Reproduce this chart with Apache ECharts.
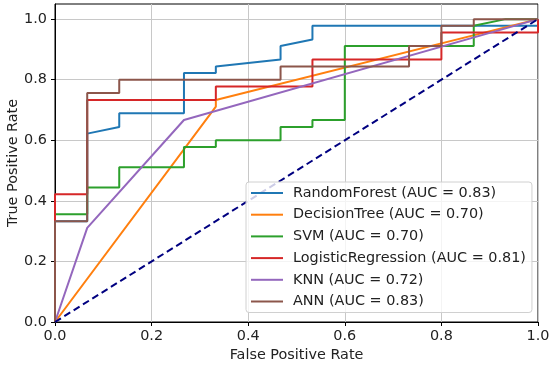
<!DOCTYPE html>
<html>
<head>
<meta charset="utf-8">
<script src="https://cdn.jsdelivr.net/npm/echarts@6/dist/echarts.min.js"></script>
<style>
html,body{margin:0;padding:0;background:#fff;}
#chart{width:550px;height:366px;}
</style>
</head>
<body>
<div id="chart"></div>
<script>
// Tick labels
var xTicks = [0, 0.2, 0.4, 0.6, 0.8, 1.0];
var yTicks = [0, 0.2, 0.4, 0.6, 0.8, 1.0];

// Model names and AUC labels
var modelNames = ['RandomForest (AUC = 0.83)', 'DecisionTree (AUC = 0.70)', 'SVM (AUC = 0.70)',
                  'LogisticRegression (AUC = 0.81)', 'KNN (AUC = 0.72)', 'ANN (AUC = 0.83)'];

// ROC curve points (FPR, TPR)
var rfFpr  = [0, 0, 0.0667, 0.0667, 0.133, 0.133, 0.267, 0.267, 0.333, 0.333, 0.467, 0.467, 0.533, 0.533, 1.0, 1.0];
var rfTpr  = [0, 0.333, 0.333, 0.622, 0.644, 0.689, 0.689, 0.822, 0.822, 0.844, 0.867, 0.911, 0.933, 0.978, 0.978, 1.0];

var dtFpr  = [0, 0.333, 0.333, 1.0];
var dtTpr  = [0, 0.711, 0.733, 1.0];

var svmFpr = [0, 0, 0.0667, 0.0667, 0.133, 0.133, 0.267, 0.267, 0.333, 0.333, 0.467, 0.467, 0.533, 0.533, 0.6, 0.6, 0.867, 0.867, 0.933, 1.0];
var svmTpr = [0, 0.356, 0.356, 0.444, 0.444, 0.511, 0.511, 0.578, 0.578, 0.6, 0.6, 0.644, 0.644, 0.667, 0.667, 0.911, 0.911, 0.978, 1.0, 1.0];

var lrFpr  = [0, 0, 0.0667, 0.0667, 0.333, 0.333, 0.533, 0.533, 0.8, 0.8, 1.0, 1.0];
var lrTpr  = [0, 0.422, 0.422, 0.733, 0.733, 0.778, 0.778, 0.867, 0.867, 0.956, 0.956, 1.0];

var knnFpr = [0, 0.0667, 0.267, 1.0];
var knnTpr = [0, 0.311, 0.667, 1.0];

var annFpr = [0, 0, 0.0667, 0.0667, 0.133, 0.133, 0.467, 0.467, 0.733, 0.733, 0.8, 0.8, 0.867, 0.867, 1.0];
var annTpr = [0, 0.333, 0.333, 0.756, 0.756, 0.8, 0.8, 0.844, 0.844, 0.911, 0.911, 0.978, 0.978, 1.0, 1.0];

var diagFpr = [0, 1];
var diagTpr = [0, 1];

var colors = ['#1f77b4', '#ff7f0e', '#2ca02c', '#d62728', '#9467bd', '#8c564b'];

function pairs(xs, ys) {
  return xs.map(function (x, i) { return [x, ys[i]]; });
}

var curves = [
  pairs(rfFpr, rfTpr), pairs(dtFpr, dtTpr), pairs(svmFpr, svmTpr),
  pairs(lrFpr, lrTpr), pairs(knnFpr, knnTpr), pairs(annFpr, annTpr)
];

var font = 'DejaVu Sans';
var fs = 14.4;

var series = curves.map(function (d, i) {
  return {
    name: modelNames[i],
    type: 'line',
    data: d,
    symbol: 'none',
    silent: true,
    animation: false,
    lineStyle: { color: colors[i], width: 2 },
    itemStyle: { color: colors[i] }
  };
});
series.push({
  name: 'diag',
  type: 'line',
  data: pairs(diagFpr, diagTpr),
  symbol: 'none',
  animation: false,
  lineStyle: { color: '#000080', width: 2, type: [7, 4] }
});

var chart = echarts.init(document.getElementById('chart'), null, { renderer: 'canvas' });
chart.setOption({
  animation: false,
  backgroundColor: '#fff',
  grid: {
    left: 55, right: 12, top: 4, bottom: 44,
    outerBoundsMode: 'none', containLabel: false,
    show: true, borderColor: '#000', borderWidth: 1, backgroundColor: 'transparent'
  },
  legend: {
    data: modelNames,
    orient: 'vertical',
    left: 246, top: 182,
    padding: [4, 6, 4, 4],
    itemWidth: 32, itemHeight: 14, itemGap: 7.7,
    itemStyle: { opacity: 0 },
    backgroundColor: 'rgba(255,255,255,0.8)',
    borderColor: '#d0d0d0', borderWidth: 1, borderRadius: 3,
    textStyle: { fontFamily: font, fontSize: fs, lineHeight: 14, color: '#222', padding: [0, 0, 0, 5] }
  },
  xAxis: {
    type: 'value', min: 0, max: 1, interval: 0.2,
    name: 'False Positive Rate', nameLocation: 'middle', nameGap: 26,
    nameTextStyle: { fontFamily: font, fontSize: fs, color: '#222' },
    axisLine: { show: true, lineStyle: { color: '#000', width: 1 } },
    axisTick: { show: true, length: 4, lineStyle: { color: '#000' } },
    axisLabel: { fontFamily: font, fontSize: fs, color: '#222', margin: 7,
      formatter: function (v) { return v.toFixed(1); } },
    splitLine: { show: true, lineStyle: { color: '#c8c8c8', width: 1 } }
  },
  yAxis: {
    type: 'value', min: 0, max: 1.05, interval: 0.2,
    name: 'True Positive Rate', nameLocation: 'middle', nameGap: 35,
    nameMoveOverlap: false,
    nameTextStyle: { fontFamily: font, fontSize: fs, color: '#222' },
    axisLine: { show: true, lineStyle: { color: '#000', width: 1 } },
    axisTick: { show: true, length: 4, lineStyle: { color: '#000' }, customValues: yTicks },
    axisLabel: { fontFamily: font, fontSize: fs, color: '#222', margin: 8, customValues: yTicks,
      formatter: function (v) { return v.toFixed(1); } },
    splitLine: { show: true, lineStyle: { color: '#c8c8c8', width: 1 } }
  },
  series: series
});
</script>
</body>
</html>
